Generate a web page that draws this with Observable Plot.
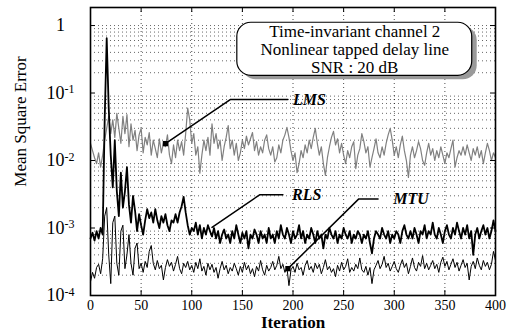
<!DOCTYPE html>
<html><head><meta charset="utf-8">
<script src="https://cdn.jsdelivr.net/npm/d3@7"></script>
<script src="https://cdn.jsdelivr.net/npm/@observablehq/plot@0.6"></script>
<style>body{margin:0;background:#fff}</style>
</head><body><div id="chart"></div>
<script>
const iterations = d3.range(0, 401, 2);
const lms = [
0.018,0.014,0.011,0.009,0.013,0.008,0.012,0.02,0.03,0.045,
0.025,0.04,0.022,0.05,0.03,0.018,0.045,0.025,0.048,0.016,
0.035,0.02,0.028,0.014,0.024,0.03,0.013,0.022,0.017,0.026,
0.012,0.02,0.015,0.011,0.021,0.013,0.018,0.016,0.024,0.012,
0.009,0.017,0.011,0.02,0.014,0.019,0.012,0.025,0.06,0.04,
0.018,0.025,0.012,0.016,0.0065,0.012,0.02,0.014,0.022,0.012,
0.035,0.018,0.025,0.015,0.02,0.01,0.016,0.022,0.033,0.015,
0.02,0.012,0.018,0.01,0.013,0.02,0.015,0.023,0.017,0.021,
0.026,0.014,0.019,0.012,0.016,0.013,0.02,0.024,0.015,0.012,
0.016,0.0095,0.011,0.017,0.013,0.02,0.024,0.031,0.022,0.014,
0.01,0.013,0.0066,0.009,0.014,0.011,0.017,0.013,0.02,0.015,
0.022,0.03,0.018,0.012,0.016,0.009,0.006,0.011,0.016,0.022,
0.027,0.017,0.021,0.013,0.018,0.012,0.009,0.014,0.011,0.016,
0.019,0.0076,0.012,0.015,0.025,0.019,0.013,0.016,0.008,0.011,
0.015,0.021,0.013,0.011,0.016,0.012,0.018,0.024,0.03,0.02,
0.012,0.016,0.011,0.017,0.023,0.014,0.01,0.0056,0.012,0.016,
0.011,0.014,0.019,0.015,0.01,0.0085,0.013,0.018,0.012,0.015,
0.01,0.014,0.011,0.016,0.012,0.009,0.013,0.011,0.015,0.02,
0.008,0.011,0.014,0.012,0.016,0.012,0.017,0.013,0.01,0.015,
0.012,0.016,0.011,0.014,0.009,0.013,0.018,0.014,0.01,0.013,
0.011];
const rls = [
7e-4,8.5e-4,6.5e-4,9e-4,7e-4,1e-3,8e-4,0.04,0.65,0.06,
0.012,0.004,0.02,0.0035,0.0015,0.0066,0.002,0.0035,0.008,0.0022,
0.0012,0.003,0.0018,0.0009,0.0016,0.0011,0.0008,0.0013,0.0019,0.0014,
0.0017,0.0012,0.0019,0.0013,0.001,0.0015,0.0012,0.0016,0.0011,0.0009,
0.0013,0.0012,0.0016,0.0012,0.0017,0.0021,0.0029,0.0017,0.0011,0.0008,
0.001,0.0009,0.0012,0.0008,0.0011,0.0007,0.001,0.0008,0.0011,0.0009,
0.00075,0.001,0.0007,0.0009,0.0006,0.0008,0.00095,0.0007,0.0008,0.0006,
0.0009,0.0007,0.0011,0.0008,0.0006,0.00085,0.0007,0.0009,0.0005,0.0008,
0.0007,0.00095,0.0008,0.0006,0.0009,0.0007,0.0008,0.0006,0.001,0.0007,
0.0008,0.0006,0.0009,0.0007,0.0011,0.0008,0.0007,0.001,0.0008,0.0006,
0.0009,0.0007,0.0008,0.0011,0.0007,0.0009,0.0006,0.0008,0.0007,0.001,
0.0008,0.0006,0.0009,0.0007,0.0008,0.0005,0.0008,0.0007,0.001,0.0008,
0.0007,0.0009,0.0006,0.0008,0.0007,0.001,0.0008,0.0007,0.0009,0.0006,
0.0008,0.0007,0.0009,0.0008,0.0006,0.0008,0.0007,0.0009,0.0006,0.00042,
0.0007,0.0009,0.0008,0.0007,0.001,0.0008,0.0007,0.0009,0.0006,0.0008,
0.0007,0.0009,0.0008,0.0006,0.0009,0.0011,0.0008,0.0007,0.0009,0.0007,
0.001,0.0008,0.0006,0.0009,0.0008,0.0011,0.0007,0.0009,0.0008,0.0012,
0.0008,0.0007,0.001,0.0008,0.0006,0.0009,0.0011,0.0008,0.0007,0.001,
0.0008,0.0012,0.0009,0.0007,0.001,0.0008,0.0011,0.0007,0.0009,0.0004,
0.0008,0.001,0.0007,0.0009,0.0011,0.0008,0.001,0.0007,0.0009,0.0013,
0.0009];
const mtu = [
1.6e-4,2.2e-4,1.8e-4,2.6e-4,2.9e-4,2.1e-4,3.5e-4,1.5e-3,2e-3,4e-4,
1.5e-4,1.2e-3,1.5e-3,3e-4,2e-4,9e-4,1.1e-3,2.5e-4,4e-4,8e-4,
3e-4,2e-4,5e-4,6e-4,2.5e-4,3e-4,2.2e-4,3.2e-4,2.6e-4,4.5e-4,
5.5e-4,3e-4,2.4e-4,3.3e-4,2.5e-4,2.8e-4,1.7e-4,2.6e-4,3.4e-4,2.7e-4,
3.1e-4,2.3e-4,2.9e-4,3.8e-4,2.5e-4,2.1e-4,3e-4,2.6e-4,3.2e-4,2.4e-4,
2.8e-4,2.2e-4,3.1e-4,2.5e-4,3.5e-4,2.3e-4,2.7e-4,2e-4,3e-4,2.4e-4,
2.9e-4,2.2e-4,2.6e-4,1.8e-4,2.5e-4,3.2e-4,2.4e-4,2.8e-4,2.1e-4,2.6e-4,
2.3e-4,3e-4,2.5e-4,2e-4,2.7e-4,2.2e-4,3.1e-4,2.4e-4,2.8e-4,2.1e-4,
2.5e-4,1.9e-4,2.7e-4,2.3e-4,3.3e-4,2.4e-4,2e-4,2.8e-4,2.3e-4,2.6e-4,
3.2e-4,2.4e-4,2.8e-4,3.8e-4,2.5e-4,2.9e-4,2.2e-4,2.6e-4,1.4e-4,2.4e-4,
2.7e-4,2.2e-4,3e-4,2.4e-4,2.6e-4,2e-4,2.8e-4,3.3e-4,2.4e-4,2.7e-4,
2.2e-4,3e-4,2.5e-4,2.9e-4,2.1e-4,2.6e-4,3.4e-4,2.4e-4,2.7e-4,2.2e-4,
2.5e-4,1.9e-4,2.8e-4,2.3e-4,3.1e-4,2.4e-4,2.7e-4,3.5e-4,2.2e-4,2.6e-4,
2.3e-4,2.9e-4,2.5e-4,3.6e-4,2.4e-4,2.2e-4,2.7e-4,2e-4,2.6e-4,1.5e-4,
2.4e-4,2.8e-4,3.3e-4,2.5e-4,2.9e-4,3.8e-4,2.6e-4,3e-4,2.3e-4,2.7e-4,
3.2e-4,2.5e-4,2.2e-4,2.8e-4,3.4e-4,2.6e-4,3e-4,2.1e-4,2.7e-4,3.6e-4,
2.6e-4,2.3e-4,3.1e-4,2.7e-4,3.9e-4,2.5e-4,3e-4,2.4e-4,2.8e-4,3.3e-4,
2.5e-4,2.9e-4,2.2e-4,3.1e-4,3.7e-4,2.7e-4,3.2e-4,2.4e-4,2.9e-4,3.5e-4,
2.6e-4,3.1e-4,2.3e-4,2.8e-4,3.4e-4,2.6e-4,3e-4,1.7e-4,2.7e-4,3.2e-4,
2.5e-4,3.6e-4,2.8e-4,2.4e-4,3.3e-4,2.7e-4,3.1e-4,2.4e-4,2.9e-4,4.5e-4,
3.3e-4];

const xTicks = [0, 50, 100, 150, 200, 250, 300, 350, 400];
const yTicks = [1e-4, 1e-3, 1e-2, 1e-1, 1];
const yTickLabels = ["10^-4", "10^-3", "10^-2", "10^-1", "1"];
const yMinor = [2e-4,3e-4,4e-4,5e-4,6e-4,7e-4,8e-4,9e-4,
  2e-3,3e-3,4e-3,5e-3,6e-3,7e-3,8e-3,9e-3,
  2e-2,3e-2,4e-2,5e-2,6e-2,7e-2,8e-2,9e-2,
  0.2,0.3,0.4,0.5,0.6,0.7,0.8,0.9,1];

const boxLines = ["Time-invariant channel 2", "Nonlinear tapped delay line", "SNR : 20 dB"];
const boxLineY = [0.815, 0.441, 0.239];
const boxX = [145, 377], boxY = [0.18, 1.1], boxTextX = 261;

const leaders = [
  {name: "LMS", pts: [[74, 0.0178], [138, 0.08], [195, 0.08]], tx: 200, ty: 0.08},
  {name: "RLS", pts: [[120, 1.02e-3], [167, 3.1e-3], [190, 3.1e-3]], tx: 199, ty: 3.1e-3},
  {name: "MTU", pts: [[195, 2.5e-4], [265, 2.7e-3], [284, 2.7e-3]], tx: 299, ty: 2.7e-3}
];

const series = (vals) => iterations.map((it, i) => ({it, v: vals[i]}));
const leaderPts = leaders.flatMap(l => l.pts.map(([x, y]) => ({name: l.name, x, y})));
const markerPts = [leaders[0].pts[0], leaders[2].pts[0]];

const chart = Plot.plot({
  width: 516, height: 335,
  marginLeft: 90, marginRight: 21, marginTop: 7, marginBottom: 40,
  style: {fontFamily: "'Liberation Serif', 'Times New Roman', serif", fontSize: "15px", color: "#000", background: "#fff"},
  x: {domain: [0, 400]},
  y: {type: "log", domain: [1e-4, 1.85], axis: null},
  marks: [
    Plot.gridX(xTicks, {stroke: "#000", strokeOpacity: 0.7, strokeDasharray: "1,3"}),
    Plot.gridY(yMinor, {stroke: "#000", strokeOpacity: 0.6, strokeDasharray: "1,3"}),
    Plot.line(series(lms), {x: "it", y: "v", stroke: "#808080", strokeWidth: 1.2}),
    Plot.line(series(mtu), {x: "it", y: "v", stroke: "#000", strokeWidth: 1}),
    Plot.line(series(rls), {x: "it", y: "v", stroke: "#000", strokeWidth: 1.8}),
    Plot.tickX(xTicks, {x: d => d, insetTop: 283, stroke: "#000"}),
    Plot.tickX(xTicks, {x: d => d, insetBottom: 283, stroke: "#000"}),
    Plot.tickY(yTicks, {y: d => d, insetRight: 400, stroke: "#000"}),
    Plot.tickY(yTicks, {y: d => d, insetLeft: 400, stroke: "#000"}),
    Plot.rect([0], {x1: boxX[0], x2: boxX[1], y1: boxY[0], y2: boxY[1], dx: 5, dy: 4, rx: 14, fill: "#9a9a9a"}),
    Plot.rect([0], {x1: boxX[0], x2: boxX[1], y1: boxY[0], y2: boxY[1], rx: 14, fill: "#fff", stroke: "#000", strokeWidth: 1.2}),
    Plot.text(boxLines, {x: boxTextX, y: (d, i) => boxLineY[i], text: d => d, fontSize: 17, fill: "#000"}),
    Plot.line(leaderPts, {x: "x", y: "y", z: "name", stroke: "#000", strokeWidth: 1.5}),
    Plot.dot(markerPts, {x: d => d[0], y: d => d[1], symbol: "square", r: 3, fill: "#000"}),
    Plot.text(leaders, {x: "tx", y: "ty", text: "name", textAnchor: "start", fontWeight: "bold", fontStyle: "italic", fontSize: 16, fill: "#000"}),
    Plot.axisX(xTicks, {tickSize: 0, tickPadding: 5, fontSize: 14, label: null}),
    Plot.text(yTicks, {frameAnchor: "left", y: d => d, text: (d, i) => yTickLabels[i], dx: -30, textAnchor: "middle", fontSize: 18, fill: "#000"}),
    Plot.text(["Iteration"], {frameAnchor: "bottom", dy: 32, fontWeight: "bold", fontSize: 17, fill: "#000"}),
    Plot.text(["Mean Square Error"], {frameAnchor: "left", dx: -70, dy: -30, rotate: -90, textAnchor: "middle", fontSize: 17, fill: "#000"}),
    Plot.frame({stroke: "#000", strokeWidth: 1.6})
  ]
});

const ns = "http://www.w3.org/2000/svg";
chart.querySelectorAll("text").forEach(t => {
  const s = t.textContent;
  if (/^10\^/.test(s)) {
    t.textContent = "10";
    const ts = document.createElementNS(ns, "tspan");
    ts.setAttribute("dy", "-0.45em");
    ts.setAttribute("font-size", "12");
    ts.textContent = s.slice(3);
    t.appendChild(ts);
  }
});
document.getElementById("chart").appendChild(chart);
</script>
</body></html>
